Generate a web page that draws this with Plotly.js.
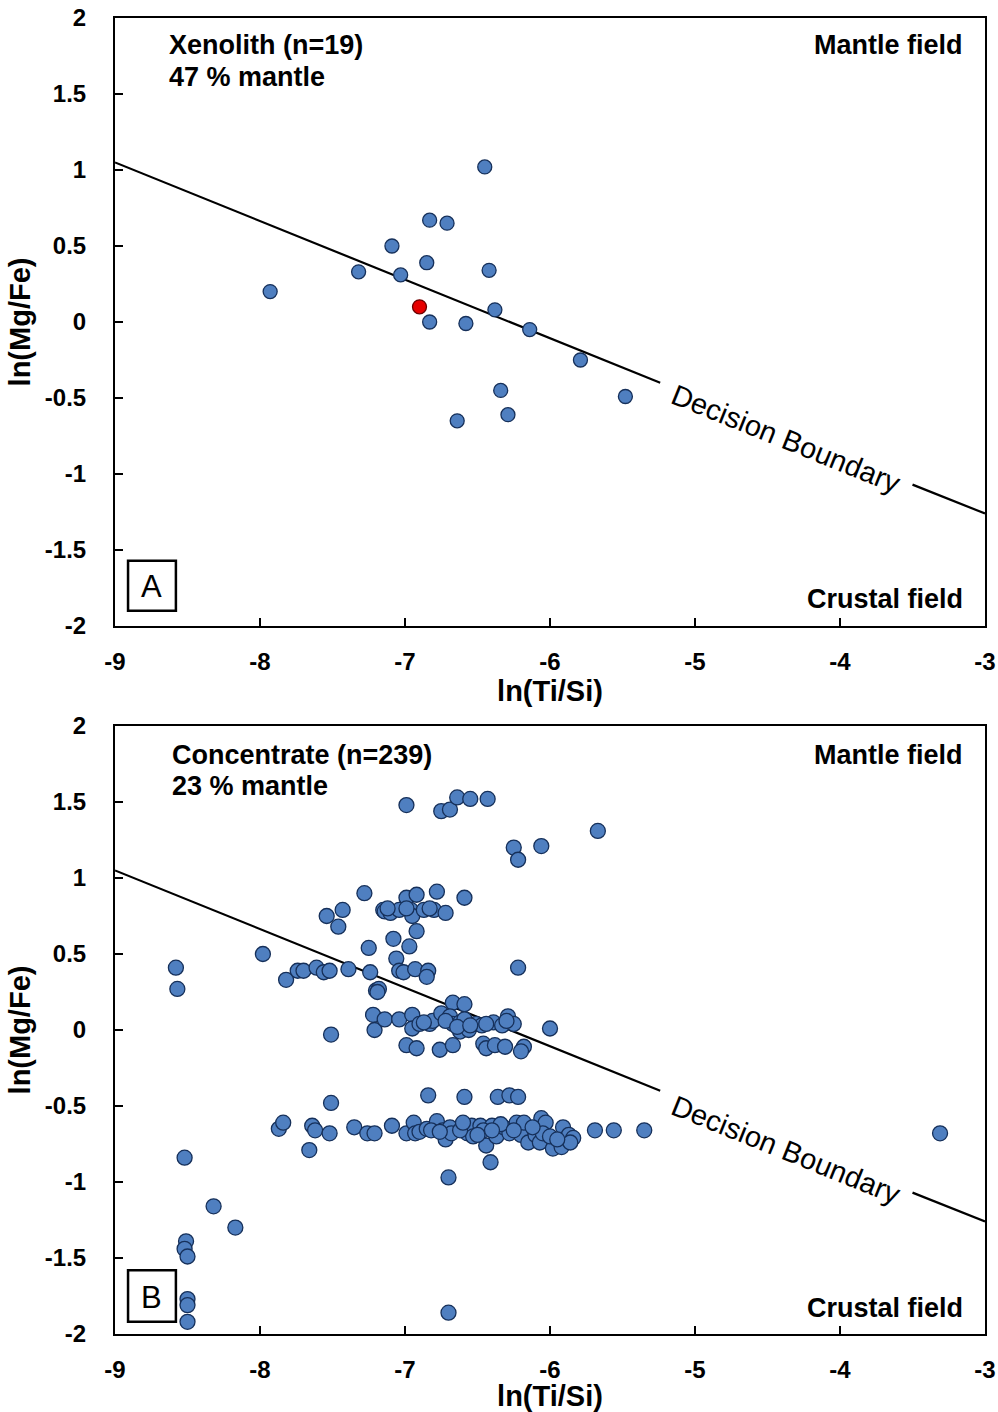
<!DOCTYPE html>
<html>
<head>
<meta charset="utf-8">
<script src="https://cdn.plot.ly/plotly-3.0.1.min.js"></script>
<style>html,body{margin:0;padding:0;background:#fff;}#chart{width:998px;height:1412px;}</style>
</head>
<body>
<div id="chart"></div>
<script>
// ---- Data ----
// Panel A: xenolith
const xenoX = [-7.93, -7.32, -7.09, -7.03, -6.85, -6.83, -6.71, -6.45, -6.42, -6.38, -6.83, -6.58, -6.14, -5.79, -6.34, -6.29, -6.64, -5.48];
const xenoY = [0.20, 0.33, 0.50, 0.31, 0.39, 0.67, 0.65, 1.02, 0.34, 0.08, 0.00, -0.01, -0.05, -0.25, -0.45, -0.61, -0.65, -0.49];
const xenoRedX = [-6.90];
const xenoRedY = [0.10];

// Panel B: concentrate
const concX = [
 -6.99,-6.75,-6.69,-6.64,-6.55,-6.43,-6.25,-6.22,-6.06,-5.67,
 -7.28,-6.99,-6.92,-6.78,-6.59,-7.54,-7.43,-7.46,-7.15,-7.14,
 -7.10,-7.04,-6.96,-6.95,-6.87,-6.80,-6.72,-7.12,-6.99,-6.83,
 -6.92,-7.08,-6.97,-7.25,-7.06,-7.98,-8.58,-8.57,-7.82,-7.74,
 -7.70,-7.61,-7.56,-7.52,-7.39,-7.24,-7.04,-7.01,-6.93,-6.84,
 -6.85,-6.22,-7.20,-7.18,-7.19,-6.67,-6.59,-7.22,-7.21,-7.14,
 -7.04,-6.95,-6.95,-6.90,-6.83,-6.81,-6.75,-6.69,-6.67,-6.62,
 -6.62,-6.56,-6.59,-6.51,-6.47,-6.39,-6.33,-6.29,-6.25,-6.00,
 -7.51,-6.72,-6.64,-6.55,-6.44,-6.30,-6.87,-6.99,-6.92,-6.76,
 -6.67,-6.46,-6.44,-6.38,-6.31,-6.18,-6.20,-6.84,-6.59,-6.36,
 -6.28,-6.22,-7.51,-7.87,-7.84,-7.64,-7.62,-7.52,-7.66,-7.35,
 -7.26,-7.21,-7.09,-6.99,-6.94,-6.93,-6.90,-6.85,-6.78,-6.74,
 -6.72,-6.69,-6.68,-6.57,-6.54,-6.53,-6.48,-6.44,-6.41,-6.40,
 -6.37,-6.32,-6.28,-6.23,-6.20,-6.18,-6.15,-6.10,-6.07,-6.06,
 -6.03,-6.05,-5.98,-5.92,-5.91,-5.87,-5.84,-5.86,-5.69,-5.56,
 -5.35,-3.31,-6.82,-6.62,-6.46,-6.34,-6.25,-6.12,-6.00,-6.60,
 -6.76,-6.50,-6.40,-5.95,-6.70,-6.70,-8.52,-8.32,-8.17,-8.51,
 -8.52,-8.50,-8.50,-8.50,-8.50
];
const concY = [
 1.48,1.44,1.45,1.53,1.52,1.52,1.20,1.12,1.21,1.31,
 0.90,0.87,0.89,0.91,0.87,0.75,0.79,0.68,0.79,0.78,
 0.77,0.79,0.79,0.75,0.79,0.79,0.77,0.80,0.80,0.80,
 0.65,0.60,0.55,0.54,0.47,0.50,0.41,0.27,0.33,0.39,
 0.39,0.41,0.38,0.39,0.40,0.38,0.39,0.38,0.40,0.39,
 0.35,0.41,0.26,0.27,0.25,0.18,0.17,0.10,0.00,0.07,
 0.07,0.10,0.01,0.04,0.04,0.06,0.11,0.09,0.04,0.05,
 -0.01,0.00,0.07,0.04,0.03,0.05,0.03,0.09,0.04,0.01,
 -0.03,0.06,0.02,0.03,0.04,0.06,0.05,-0.10,-0.12,-0.13,
 -0.10,-0.09,-0.12,-0.10,-0.11,-0.11,-0.14,-0.43,-0.44,-0.44,
 -0.43,-0.44,-0.48,-0.65,-0.61,-0.63,-0.66,-0.68,-0.79,-0.64,
 -0.68,-0.68,-0.63,-0.68,-0.61,-0.68,-0.67,-0.65,-0.60,-0.66,
 -0.72,-0.64,-0.68,-0.68,-0.63,-0.70,-0.63,-0.76,-0.87,-0.63,
 -0.70,-0.64,-0.68,-0.61,-0.69,-0.61,-0.74,-0.69,-0.74,-0.58,
 -0.61,-0.68,-0.78,-0.77,-0.64,-0.69,-0.71,-0.74,-0.66,-0.66,
 -0.66,-0.68,-0.66,-0.66,-0.66,-0.62,-0.66,-0.64,-0.70,-0.61,
 -0.67,-0.69,-0.66,-0.72,-0.97,-1.86,-0.84,-1.16,-1.30,-1.39,
 -1.44,-1.49,-1.77,-1.81,-1.92
];

// Decision boundary (with a gap for its label)
const boundaryX = [-9, -5.24, null, -3.5, -3];
const boundaryY = [1.05, -0.40, null, -1.07, -1.26];

// Tick labels
const xTickVals = [-9, -8, -7, -6, -5, -4, -3];
const xTickText = ["-9", "-8", "-7", "-6", "-5", "-4", "-3"];
const yTickVals = [2, 1.5, 1, 0.5, 0, -0.5, -1, -1.5, -2];
const yTickText = ["2", "1.5", "1", "0.5", "0", "-0.5", "-1", "-1.5", "-2"];

// ---- Styles ----
const FONT = "Liberation Sans, Arial, sans-serif";
const blueMarker = {size: 14, color: "#4f7fc0", line: {color: "#16305a", width: 1.3}};
const redMarker = {size: 14, color: "#e60000", line: {color: "#6b0000", width: 1.3}};

const traces = [
  {x: boundaryX, y: boundaryY, mode: "lines", line: {color: "#000", width: 2.2}, xaxis: "x", yaxis: "y", hoverinfo: "skip", connectgaps: false},
  {x: xenoX, y: xenoY, mode: "markers", marker: blueMarker, xaxis: "x", yaxis: "y"},
  {x: xenoRedX, y: xenoRedY, mode: "markers", marker: redMarker, xaxis: "x", yaxis: "y"},
  {x: boundaryX, y: boundaryY, mode: "lines", line: {color: "#000", width: 2.2}, xaxis: "x2", yaxis: "y2", hoverinfo: "skip", connectgaps: false},
  {x: concX, y: concY, mode: "markers", marker: Object.assign({}, blueMarker, {size: 15}), xaxis: "x2", yaxis: "y2"}
];

function xAxis(anchor) {
  return {
    anchor: anchor, range: [-9, -3], tickmode: "array", tickvals: xTickVals, ticktext: xTickText,
    ticks: "inside", ticklen: 8, tickwidth: 2, tickcolor: "#000",
    showline: true, linecolor: "#000", linewidth: 2, mirror: true,
    showgrid: false, zeroline: false, ticklabelstandoff: 13,
    tickfont: {family: FONT, size: 24, color: "#000", weight: "bold"},
    title: {text: "<b>ln(Ti/Si)</b>", font: {family: FONT, size: 29, color: "#000"}, standoff: 0}
  };
}
function yAxis(anchor, domain) {
  return {
    anchor: anchor, domain: domain, range: [-2, 2], tickmode: "array", tickvals: yTickVals, ticktext: yTickText,
    ticks: "inside", ticklen: 8, tickwidth: 2, tickcolor: "#000",
    showline: true, linecolor: "#000", linewidth: 2, mirror: true,
    showgrid: false, zeroline: false, ticklabelstandoff: 22,
    tickfont: {family: FONT, size: 24, color: "#000", weight: "bold"},
    title: {text: "<b>ln(Mg/Fe)</b>", font: {family: FONT, size: 29, color: "#000"}, standoff: 6}
  };
}

function ann(xref, yref, x, y, text, opts) {
  return Object.assign({xref: xref, yref: yref, x: x, y: y, text: text, showarrow: false,
    font: {family: FONT, size: 27, color: "#000"}, xanchor: "left", yanchor: "middle"}, opts || {});
}

const annotations = [
  ann("x", "y", -8.64, 1.82, "<b>Xenolith (n=19)</b>"),
  ann("x", "y", -8.64, 1.61, "<b>47 % mantle</b>"),
  ann("x", "y", -3.14, 1.82, "<b>Mantle field</b>", {xanchor: "right"}),
  ann("x", "y", -3.14, -1.82, "<b>Crustal field</b>", {xanchor: "right"}),
  ann("x", "y", -8.745, -1.737, "A", {xanchor: "center", font: {family: FONT, size: 31, color: "#000"}}),
  ann("x", "y", -4.37, -0.77, "Decision Boundary", {xanchor: "center", textangle: 22, font: {family: FONT, size: 29, color: "#000"}}),
  ann("x2", "y2", -8.62, 1.81, "<b>Concentrate (n=239)</b>"),
  ann("x2", "y2", -8.62, 1.605, "<b>23 % mantle</b>"),
  ann("x2", "y2", -3.14, 1.81, "<b>Mantle field</b>", {xanchor: "right"}),
  ann("x2", "y2", -3.14, -1.83, "<b>Crustal field</b>", {xanchor: "right"}),
  ann("x2", "y2", -8.745, -1.757, "B", {xanchor: "center", font: {family: FONT, size: 31, color: "#000"}}),
  ann("x2", "y2", -4.37, -0.79, "Decision Boundary", {xanchor: "center", textangle: 22, font: {family: FONT, size: 29, color: "#000"}})
];

const shapes = [
  {type: "rect", xref: "x", yref: "y", x0: -8.91, x1: -8.58, y0: -1.90, y1: -1.57, line: {color: "#000", width: 2.5}},
  {type: "rect", xref: "x2", yref: "y2", x0: -8.91, x1: -8.58, y0: -1.92, y1: -1.58, line: {color: "#000", width: 2.5}}
];

const layout = {
  width: 998, height: 1412,
  margin: {l: 115, r: 13, t: 18, b: 78},
  paper_bgcolor: "#fff", plot_bgcolor: "#fff",
  showlegend: false,
  xaxis: xAxis("y"),
  yaxis: yAxis("x", [0.538, 1]),
  xaxis2: xAxis("y2"),
  yaxis2: yAxis("x2", [0, 0.462]),
  annotations: annotations,
  shapes: shapes,
  font: {family: FONT, color: "#000"}
};

Plotly.newPlot("chart", traces, layout, {displayModeBar: false, staticPlot: true});
</script>
</body>
</html>
